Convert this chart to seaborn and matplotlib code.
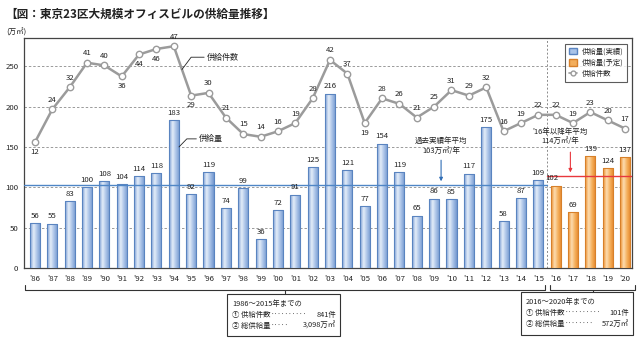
import numpy as np
import pandas as pd
import matplotlib
matplotlib.use("Agg")
import matplotlib.pyplot as plt
import seaborn as sns
from matplotlib.patches import Patch, Rectangle
from matplotlib.lines import Line2D
import matplotlib.transforms as mtransforms

sns.set_theme(style="white")
plt.rcParams['font.family'] = ['Noto Sans CJK JP', 'DejaVu Sans']

# ---------------- data ----------------
years = ["'86", "'87", "'88", "'89", "'90", "'91", "'92", "'93", "'94", "'95",
         "'96", "'97", "'98", "'99", "'00", "'01", "'02", "'03", "'04", "'05",
         "'06", "'07", "'08", "'09", "'10", "'11", "'12", "'13", "'14", "'15",
         "'16", "'17", "'18", "'19", "'20"]
supply = [56, 55, 83, 100, 108, 104, 114, 118, 183, 92,
          119, 74, 99, 36, 72, 91, 125, 216, 121, 77,
          154, 119, 65, 86, 85, 117, 175, 58, 87, 109,
          102, 69, 139, 124, 137]
counts = [12, 24, 32, 41, 40, 36, 44, 46, 47, 29,
          30, 21, 15, 14, 16, 19, 28, 42, 37, 19,
          28, 26, 21, 25, 31, 29, 32, 16, 19, 22,
          22, 19, 23, 20, 17]
kinds = ["実績"] * 30 + ["予定"] * 5
avg_past = 103
avg_future = 114
yticks = [0, 50, 100, 150, 200, 250]

df = pd.DataFrame({"year": years, "supply": supply, "count": counts,
                   "kind": kinds, "idx": np.arange(len(years))})

# ---------------- styles ----------------
BLUE_EDGE = "#5a84c0"
ORANGE_EDGE = "#d7802a"
LINE_GRAY = "#9b9b9b"
TXT = "#222222"
below_idx = {0, 5, 6, 7, 9, 19}  # count labels placed below the marker

W, H = 640, 343
fig = plt.figure(figsize=(6.4, 3.43), dpi=100)
ax = fig.add_axes([24 / W, 75 / H, 608 / W, 230 / H])

sns.barplot(data=df, x="year", y="supply", hue="kind",
            palette={"実績": "#a9c3e8", "予定": "#f3ae5c"},
            dodge=False, width=0.58, legend=False, ax=ax, zorder=3,
            edgecolor="none", linewidth=0)

ax.set_xlim(-0.63, 34.4)
ax.set_ylim(0, 285)

# gradient fill inside bars
blue_cm = matplotlib.colors.LinearSegmentedColormap.from_list(
    "b", ["#7c9fd4", "#e4edf9", "#a7c1e6", "#7397cf"])
orange_cm = matplotlib.colors.LinearSegmentedColormap.from_list(
    "o", ["#ec8f2c", "#fddcb0", "#f4ad58", "#e5852a"])
grad = np.linspace(0, 1, 64).reshape(1, -1)
for p in list(ax.patches):
    x0, y0 = p.get_x(), p.get_y()
    w, h = p.get_width(), p.get_height()
    if not np.isfinite(h) or h == 0:
        continue
    is_orange = x0 > 29.5
    cm = orange_cm if is_orange else blue_cm
    im = ax.imshow(grad, extent=[x0, x0 + w, y0, y0 + h], aspect="auto",
                   cmap=cm, zorder=3.5, interpolation="bilinear")
    im.set_clip_path(p)
    ax.add_patch(Rectangle((x0, y0), w, h, fill=False,
                           edgecolor=ORANGE_EDGE if is_orange else BLUE_EDGE,
                           linewidth=0.8, zorder=4))
ax.set_xlim(-0.63, 34.4)
ax.set_ylim(0, 285)

# value labels on bars
for i, v in enumerate(supply):
    dx = -0.2 if i == 30 else 0
    ax.text(i + dx, v + 4, str(v), ha="center", va="bottom", fontsize=5.6,
            color=TXT, zorder=6)

# grid
for t in yticks[1:]:
    ax.axhline(t, color="#9a9a9a", lw=0.7, ls=(0, (2.5, 2)), zorder=1)
ax.set_yticks(yticks)
ax.set_yticklabels([str(t) for t in yticks], fontsize=5.6, color=TXT)
ax.tick_params(axis="y", length=0, pad=4)
ax.tick_params(axis="x", length=0, pad=5, labelsize=5.6, labelcolor=TXT)
ax.set_xlabel("")
ax.set_ylabel("")
for s in ax.spines.values():
    s.set_color("#444444")
    s.set_linewidth(0.9)

# divider and average lines
ax.axvline(29.5, color="#8a8a8a", lw=0.7, ls=(0, (2, 2)), zorder=2)
ax.plot([-0.63, 29.5], [avg_past, avg_past], color="#4f86c6", lw=1.0, zorder=5)
ax.plot([29.5, 34.4], [avg_future, avg_future], color="#e8383d", lw=1.0, zorder=5)

# average annotations
ax.text(23.4, 151, "過去実績年平均\n103万㎡/年", ha="center", va="center",
        fontsize=5.4, color=TXT, linespacing=1.35, zorder=6)
ax.annotate("", xy=(23.4, avg_past + 1), xytext=(23.4, 137),
            arrowprops=dict(arrowstyle="-|>", color="#2f6db5", lw=0.8,
                            mutation_scale=5), zorder=6)
ax.text(30.25, 163, "'16年以降年平均\n114万㎡/年", ha="center", va="center",
        fontsize=5.4, color=TXT, linespacing=1.3, zorder=6)
ax.annotate("", xy=(30.85, avg_future + 1), xytext=(30.85, 147),
            arrowprops=dict(arrowstyle="-|>", color="#e8383d", lw=0.8,
                            mutation_scale=5), zorder=6)

# ---------------- counts line on twin axis ----------------
ax2 = ax.twinx()
ax2.set_ylim(-115 / 3.4, 170 / 3.4)
sns.lineplot(data=df, x="idx", y="count", ax=ax2, color=LINE_GRAY, lw=1.8,
             marker="o", markersize=4.6, markerfacecolor="white",
             markeredgecolor=LINE_GRAY, markeredgewidth=1.0, zorder=7)
ax2.set_xlim(-0.63, 34.4)
ax2.set_yticks([])
ax2.set_ylabel("")
ax2.set_xlabel("")
for s in ax2.spines.values():
    s.set_visible(False)
for i, c in enumerate(counts):
    if i in below_idx:
        ax2.annotate(str(c), (i, c), xytext=(0, -4), textcoords="offset points",
                     ha="center", va="top", fontsize=5.6, color=TXT, zorder=8)
    else:
        ax2.annotate(str(c), (i, c), xytext=(0, 4), textcoords="offset points",
                     ha="center", va="bottom", fontsize=5.6, color=TXT, zorder=8)

# leader labels
ax2.plot([8.47, 9.0, 9.75], [38.5, 43, 43], color=TXT, lw=0.6, zorder=8)
ax2.text(9.9, 43, "供給件数", ha="left", va="center", fontsize=5.8, color=TXT)
ax.plot([8.3, 8.75, 9.3], [150, 160, 160], color=TXT, lw=0.6, zorder=8)
ax.text(9.45, 160, "供給量", ha="left", va="center", fontsize=5.8, color=TXT)

# legend
handles = [Patch(facecolor="#a9c3e8", edgecolor=BLUE_EDGE, label="供給量(実績)"),
           Patch(facecolor="#f3ae5c", edgecolor=ORANGE_EDGE, label="供給量(予定)"),
           Line2D([], [], color=LINE_GRAY, lw=1.2, marker="o", markersize=3.5,
                  markerfacecolor="white", markeredgecolor=LINE_GRAY,
                  label="供給件数")]
leg = ax2.legend(handles=handles, loc="upper right", bbox_to_anchor=(0.998, 0.99),
                 fontsize=5.3, frameon=True, fancybox=False, handlelength=1.2,
                 handleheight=1.0, handletextpad=0.6, borderpad=0.5,
                 labelspacing=0.45)
leg.get_frame().set_edgecolor("#333333")
leg.get_frame().set_linewidth(0.8)
leg.set_zorder(10)

# ---------------- titles ----------------
fig.text(5 / W, 1 - 14 / H, "【図：東京23区大規模オフィスビルの供給量推移】",
         ha="left", va="center", fontsize=8.4, fontweight="bold", color=TXT)
fig.text(6 / W, 1 - 33 / H, "(万㎡)", ha="left", va="center", fontsize=5.4,
         color=TXT)

# ---------------- brackets & boxes ----------------
trans = mtransforms.blended_transform_factory(ax.transData, ax.transAxes)
yb = (268 - 290) / 230
yt = (268 - 285) / 230
yn = (268 - 294) / 230
for a, b in [(-0.58, 29.4), (29.7, 34.6)]:
    m = (a + b) / 2
    ax.plot([a, a, b, b], [yt, yb, yb, yt], color="#333333", lw=0.8,
            transform=trans, clip_on=False)
    ax.plot([m, m], [yb, yn], color="#333333", lw=0.8, transform=trans,
            clip_on=False)


def fbox(x0, y0, x1, y1, lines):
    fig.patches.append(Rectangle((x0 / W + 0.002, 1 - y1 / H - 0.004),
                                 (x1 - x0) / W, (y1 - y0) / H,
                                 transform=fig.transFigure, facecolor="#bbbbbb",
                                 edgecolor="none", zorder=1))
    fig.patches.append(Rectangle((x0 / W, 1 - y1 / H), (x1 - x0) / W,
                                 (y1 - y0) / H, transform=fig.transFigure,
                                 facecolor="white", edgecolor="#333333",
                                 linewidth=0.8, zorder=2))
    head, rows = lines
    fig.text((x0 + 5) / W, 1 - (y0 + 10) / H, head, ha="left", va="center",
             fontsize=5.3, color=TXT, zorder=3)
    for k, (lab, dots, val) in enumerate(rows):
        yy = 1 - (y0 + 21 + 11 * k) / H
        fig.text((x0 + 5) / W, yy, lab, ha="left", va="center", fontsize=5.3,
                 color=TXT, zorder=3)
        fig.text((x0 + 44) / W, yy, dots, ha="left", va="center",
                 fontsize=4.6, color=TXT, zorder=3)
        fig.text((x1 - 4) / W, yy, val, ha="right", va="center", fontsize=5.3,
                 color=TXT, zorder=3)


fbox(227, 294, 340, 336, ("1986～2015年までの",
                          [("① 供給件数", "··········", "841件"),
                           ("② 総供給量", "·····", "3,098万㎡")]))
fbox(521, 292, 633, 335, ("2016～2020年までの",
                          [("① 供給件数", "··········", "101件"),
                           ("② 総供給量", "········", "572万㎡")]))

fig.savefig("out.png", dpi=100)
